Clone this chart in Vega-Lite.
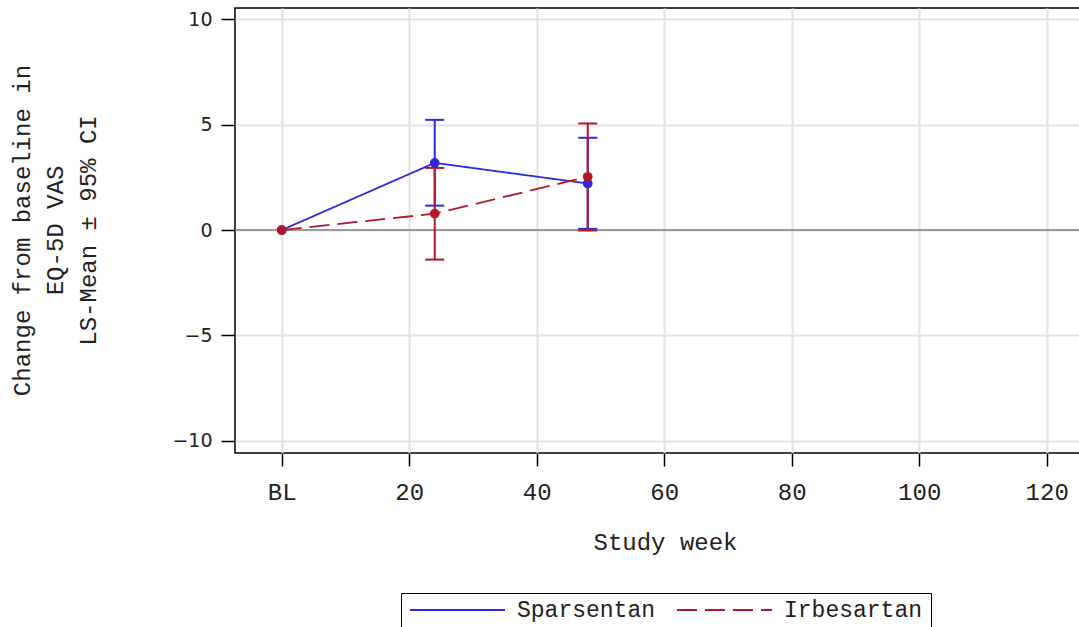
{
  "$schema": "https://vega.github.io/schema/vega-lite/v6.json",
  "width": 846,
  "height": 445,
  "autosize": {"type": "none"},
  "padding": {"left": 235, "top": 8, "right": 0, "bottom": 174},
  "background": "white",
  "config": {
    "view": {"stroke": "black", "strokeWidth": 1.5},
    "axis": {"domain": false}
  },
  "data": {
    "values": [
      {"group": "Sparsentan", "week": 0, "mean": 0, "lower": null, "upper": null},
      {"group": "Sparsentan", "week": 24, "mean": 3.19, "lower": 1.16, "upper": 5.23},
      {"group": "Sparsentan", "week": 48, "mean": 2.21, "lower": 0.06, "upper": 4.38},
      {"group": "Irbesartan", "week": 0, "mean": 0, "lower": null, "upper": null},
      {"group": "Irbesartan", "week": 24, "mean": 0.78, "lower": -1.40, "upper": 2.95},
      {"group": "Irbesartan", "week": 48, "mean": 2.53, "lower": -0.02, "upper": 5.06}
    ]
  },
  "layer": [
    {
      "data": {"values": [{"ref": 0}]},
      "mark": {"type": "rule", "color": "#808080", "strokeWidth": 1.5},
      "encoding": {
        "y": {
          "field": "ref",
          "type": "quantitative",
          "title": ["Change from baseline in", "EQ-5D VAS", "LS-Mean ± 95% CI"],
          "scale": {"domain": [-10.58, 10.54], "nice": false, "zero": false},
          "axis": {
            "values": [-10, -5, 0, 5, 10],
            "grid": true,
            "gridColor": "#e2e2e2",
            "gridWidth": 2,
            "tickSize": 14,
            "tickColor": "black",
            "tickWidth": 1.5,
            "labelFont": "DejaVu Sans",
            "labelFontSize": 19,
            "labelColor": "#222222",
            "labelPadding": 9,
            "titleFont": "Liberation Mono",
            "titleFontSize": 24,
            "titleFontWeight": "normal",
            "titleColor": "#222222",
            "titleLineHeight": 33,
            "titleAngle": -90,
            "titleAlign": "center",
            "titleBaseline": "bottom",
            "titleX": -201,
            "titleY": 222
          }
        }
      }
    },
    {
      "encoding": {
        "x": {
          "field": "week",
          "type": "quantitative",
          "title": "Study week",
          "scale": {"domain": [-7.33, 125.38], "nice": false, "zero": false},
          "axis": {
            "values": [0, 20, 40, 60, 80, 100, 120],
            "labelExpr": "datum.value === 0 ? 'BL' : datum.label",
            "grid": true,
            "gridColor": "#e2e2e2",
            "gridWidth": 2,
            "tickSize": 13,
            "tickColor": "black",
            "tickWidth": 1.5,
            "labelFont": "Liberation Mono",
            "labelFontSize": 24,
            "labelColor": "#222222",
            "labelPadding": 14,
            "titleFont": "Liberation Mono",
            "titleFontSize": 24,
            "titleFontWeight": "normal",
            "titleColor": "#222222",
            "titlePadding": 26,
            "titleX": 430
          }
        },
        "color": {
          "field": "group",
          "type": "nominal",
          "scale": {"domain": ["Sparsentan", "Irbesartan"], "range": ["#2b2bd9", "#b2182b"]},
          "legend": {
            "title": null,
            "orient": "none",
            "legendX": 166,
            "legendY": 585,
            "direction": "horizontal",
            "strokeColor": "black",
            "padding": 8,
            "symbolType": "stroke",
            "symbolSize": 9025,
            "symbolStrokeWidth": 2,
            "labelFont": "Liberation Mono",
            "labelFontSize": 23,
            "labelColor": "#222222",
            "labelOffset": 11,
            "columnPadding": 20,
            "clipHeight": 18
          }
        }
      },
      "layer": [
        {
          "mark": {"type": "tick", "orient": "horizontal", "size": 19, "thickness": 2, "opacity": 1},
          "encoding": {
            "y": {"field": "lower", "type": "quantitative", "title": ["Change from baseline in", "EQ-5D VAS", "LS-Mean ± 95% CI"], "scale": {"domain": [-10.58, 10.54], "nice": false, "zero": false}}
          }
        },
        {
          "mark": {"type": "tick", "orient": "horizontal", "size": 19, "thickness": 2, "opacity": 1},
          "encoding": {
            "y": {"field": "upper", "type": "quantitative", "title": ["Change from baseline in", "EQ-5D VAS", "LS-Mean ± 95% CI"], "scale": {"domain": [-10.58, 10.54], "nice": false, "zero": false}}
          }
        },
        {
          "mark": {"type": "rule", "strokeWidth": 2},
          "encoding": {
            "y": {"field": "lower", "type": "quantitative", "title": ["Change from baseline in", "EQ-5D VAS", "LS-Mean ± 95% CI"], "scale": {"domain": [-10.58, 10.54], "nice": false, "zero": false}},
            "y2": {"field": "upper"}
          }
        },
        {
          "mark": {"type": "line", "strokeWidth": 1.8},
          "encoding": {
            "y": {"field": "mean", "type": "quantitative", "title": ["Change from baseline in", "EQ-5D VAS", "LS-Mean ± 95% CI"], "scale": {"domain": [-10.58, 10.54], "nice": false, "zero": false}},
            "strokeDash": {
              "field": "group",
              "type": "nominal",
              "scale": {"domain": ["Sparsentan", "Irbesartan"], "range": [[1, 0], [20, 8]]},
              "legend": {
                "title": null,
                "orient": "none",
                "legendX": 166,
                "legendY": 585,
                "direction": "horizontal",
                "strokeColor": "black",
                "padding": 8,
                "symbolType": "stroke",
                "symbolSize": 9025,
                "symbolStrokeWidth": 2,
                "labelFont": "Liberation Mono",
                "labelFontSize": 23,
                "labelColor": "#222222",
                "labelOffset": 11,
                "columnPadding": 20,
                "clipHeight": 18
              }
            }
          }
        },
        {
          "mark": {"type": "point", "filled": true, "opacity": 1, "size": 95},
          "encoding": {
            "y": {"field": "mean", "type": "quantitative", "title": ["Change from baseline in", "EQ-5D VAS", "LS-Mean ± 95% CI"], "scale": {"domain": [-10.58, 10.54], "nice": false, "zero": false}}
          }
        }
      ]
    }
  ]
}
